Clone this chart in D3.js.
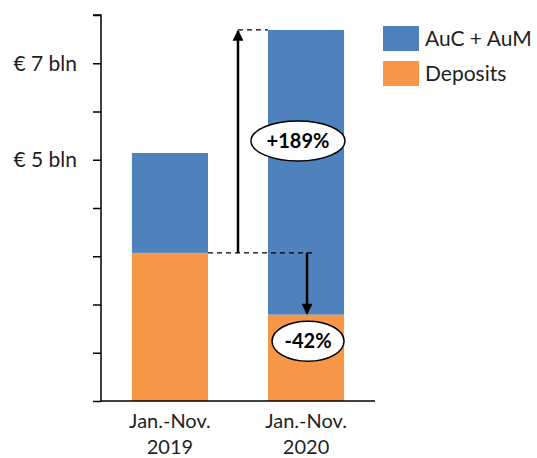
<!DOCTYPE html>
<html>
<head>
<meta charset="utf-8">
<script src="https://cdn.jsdelivr.net/npm/d3@7"></script>
<style>
  body { margin: 0; background: #fff; }
  text { font-family: Lato, "Open Sans", sans-serif; fill: #1f1f1f; }
</style>
</head>
<body>
<div id="chart"></div>
<script>
var categories = ["Jan.-Nov. 2019", "Jan.-Nov. 2020"];
var seriesNames = ["Deposits", "AuC + AuM"];
var deposits = [3.07, 1.79];
var aucAum = [2.07, 5.90];
var tickValues = [0, 1, 2, 3, 4, 5, 6, 7, 8];
var tickLabels = {5: "€ 5 bln", 7: "€ 7 bln"};
var changeLabels = ["+189%", "-42%"];

var colors = {"Deposits": "#f79646", "AuC + AuM": "#4f81bd"};

var width = 537, height = 458;
var svg = d3.select("#chart").append("svg")
    .attr("width", width)
    .attr("height", height);

var x = d3.scaleBand()
    .domain(categories)
    .range([102, 374])
    .paddingInner(0.441)
    .paddingOuter(0.22);

var y = d3.scaleLinear()
    .domain([0, 8])
    .range([401, 15]);

var rows = categories.map(function(c, i) {
    return {cat: c, "Deposits": deposits[i], "AuC + AuM": aucAum[i]};
});
var stacked = d3.stack().keys(seriesNames)(rows);

svg.append("marker")
    .attr("id", "arrowhead")
    .attr("viewBox", "0 0 10 10")
    .attr("refX", 9)
    .attr("refY", 5)
    .attr("markerWidth", 5)
    .attr("markerHeight", 4.4)
    .attr("orient", "auto")
    .append("path")
    .attr("d", "M 0 0 L 10 5 L 0 10 z")
    .attr("fill", "#000");

svg.selectAll("g.layer")
    .data(stacked)
    .enter()
    .append("g")
    .attr("class", "layer")
    .attr("fill", function(d) { return colors[d.key]; })
    .selectAll("rect")
    .data(function(d) { return d; })
    .enter()
    .append("rect")
    .attr("x", function(d) { return x(d.data.cat); })
    .attr("width", x.bandwidth())
    .attr("y", function(d) { return y(d[1]); })
    .attr("height", function(d) { return y(d[0]) - y(d[1]); });

// y axis
var yAxis = svg.append("g")
    .attr("transform", "translate(101,0)")
    .call(d3.axisLeft(y).tickValues(tickValues).tickSize(8).tickFormat(""));
yAxis.selectAll("line, path").attr("stroke", "#000").attr("stroke-width", 1.5);
yAxis.select(".domain").attr("d", "M-8," + y(8) + "H0V" + y(0));

svg.selectAll("text.ylab")
    .data(Object.keys(tickLabels))
    .enter()
    .append("text")
    .attr("class", "ylab")
    .attr("x", 77)
    .attr("y", function(d) { return y(+d); })
    .attr("dy", "0.35em")
    .attr("text-anchor", "end")
    .attr("font-size", "21px")
    .text(function(d) { return tickLabels[d]; });

// baseline
svg.append("line")
    .attr("x1", 101).attr("x2", 375)
    .attr("y1", y(0)).attr("y2", y(0))
    .attr("stroke", "#000").attr("stroke-width", 1.5);

// category labels
svg.selectAll("text.xlab")
    .data(categories)
    .enter()
    .append("text")
    .attr("class", "xlab")
    .attr("x", function(d) { return x(d) + x.bandwidth() / 2; })
    .attr("y", 428)
    .attr("text-anchor", "middle")
    .attr("font-size", "20px")
    .each(function(d) {
        var parts = d.split(" ");
        d3.select(this).append("tspan").attr("x", x(d) + x.bandwidth() / 2).text(parts[0]);
        d3.select(this).append("tspan").attr("x", x(d) + x.bandwidth() / 2).attr("dy", 26).text(parts[1]);
    });

// annotations
var dep19 = y(deposits[0]);
var tot20 = y(deposits[1] + aucAum[1]);
var dep20 = y(deposits[1]);
var x19r = x(categories[0]) + x.bandwidth();
var x20l = x(categories[1]);
var x20c = x20l + x.bandwidth() / 2;
var upX = x19r + 30;

svg.append("line")
    .attr("x1", x19r).attr("x2", x20c + 7)
    .attr("y1", dep19).attr("y2", dep19)
    .attr("stroke", "#000").attr("stroke-width", 1.3)
    .attr("stroke-dasharray", "5,4");
svg.append("line")
    .attr("x1", upX).attr("x2", x20l)
    .attr("y1", tot20).attr("y2", tot20)
    .attr("stroke", "#000").attr("stroke-width", 1.3)
    .attr("stroke-dasharray", "5,4");

svg.append("line")
    .attr("x1", upX).attr("x2", upX)
    .attr("y1", dep19).attr("y2", tot20 + 1)
    .attr("stroke", "#000").attr("stroke-width", 2.5)
    .attr("marker-end", "url(#arrowhead)");
svg.append("line")
    .attr("x1", x20c + 1).attr("x2", x20c + 1)
    .attr("y1", dep19).attr("y2", dep20 - 1)
    .attr("stroke", "#000").attr("stroke-width", 2.5)
    .attr("marker-end", "url(#arrowhead)");

var bubbles = [
    {label: changeLabels[0], cx: 298, cy: y(5.39), rx: 47, ry: 20},
    {label: changeLabels[1], cx: x20c + 2, cy: y(1.24), rx: 36, ry: 20}
];
var bg = svg.selectAll("g.bubble")
    .data(bubbles)
    .enter()
    .append("g")
    .attr("class", "bubble");
bg.append("ellipse")
    .attr("cx", function(d) { return d.cx; })
    .attr("cy", function(d) { return d.cy; })
    .attr("rx", function(d) { return d.rx; })
    .attr("ry", function(d) { return d.ry; })
    .attr("fill", "#fff")
    .attr("stroke", "#000")
    .attr("stroke-width", 1.5);
bg.append("text")
    .attr("x", function(d) { return d.cx; })
    .attr("y", function(d) { return d.cy; })
    .attr("dy", "0.36em")
    .attr("text-anchor", "middle")
    .attr("font-size", "20px")
    .attr("font-weight", "bold")
    .style("fill", "#000")
    .text(function(d) { return d.label; });

// legend
var legend = svg.selectAll("g.legend")
    .data(seriesNames.slice().reverse())
    .enter()
    .append("g")
    .attr("class", "legend")
    .attr("transform", function(d, i) { return "translate(383," + (26 + i * 35) + ")"; });
legend.append("rect")
    .attr("width", 36)
    .attr("height", 25)
    .attr("fill", function(d) { return colors[d]; });
legend.append("text")
    .attr("x", 42)
    .attr("y", 12.5)
    .attr("dy", "0.35em")
    .attr("font-size", "21px")
    .text(function(d) { return d; });
</script>
</body>
</html>
